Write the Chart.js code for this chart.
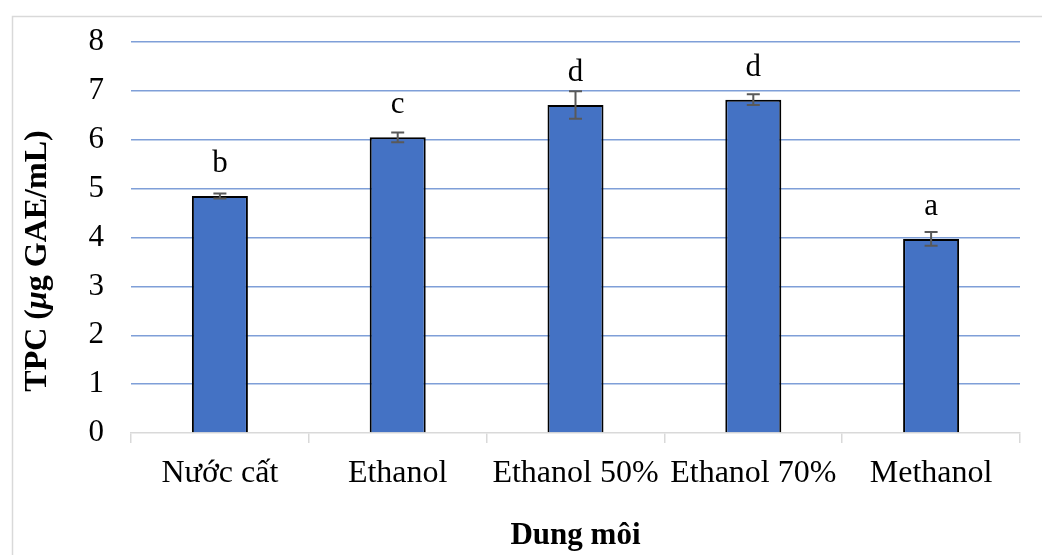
<!DOCTYPE html>
<html>
<head>
<meta charset="utf-8">
<script src="https://cdn.jsdelivr.net/npm/chart.js@4/dist/chart.umd.min.js"></script>
<style>
  html, body { margin: 0; padding: 0; background: #ffffff; }
  #wrap { width: 1042px; height: 555px; }
</style>
</head>
<body>
<div id="wrap"><canvas id="c" width="1042" height="555"></canvas></div>
<script>
// Total phenolic content by extraction solvent
const solvents = ['Nước cất', 'Ethanol', 'Ethanol 50%', 'Ethanol 70%', 'Methanol'];
const tpcMean = [4.85, 6.05, 6.71, 6.82, 3.97];
const tpcSd = [0.05, 0.10, 0.28, 0.11, 0.14];
const groupLetters = ['b', 'c', 'd', 'd', 'a'];
const yTicks = [0, 1, 2, 3, 4, 5, 6, 7, 8];

const SERIF = '"Liberation Serif", "Times New Roman", serif';

// outer frame line at the top-left of the figure
const framePlugin = {
  id: 'frame',
  beforeDraw(chart) {
    const ctx = chart.ctx;
    ctx.save();
    ctx.fillStyle = '#ffffff';
    ctx.fillRect(0, 0, chart.width, chart.height);
    ctx.strokeStyle = '#d9d9d9';
    ctx.lineWidth = 1.5;
    ctx.beginPath();
    ctx.moveTo(12.5, chart.height);
    ctx.lineTo(12.5, 16.5);
    ctx.lineTo(chart.width, 16.5);
    ctx.stroke();
    ctx.restore();
  }
};

// standard deviation whiskers and significance letters
const errorPlugin = {
  id: 'errorBars',
  afterDatasetsDraw(chart) {
    const ctx = chart.ctx;
    const y = chart.scales.y;
    const meta = chart.getDatasetMeta(0);
    ctx.save();
    meta.data.forEach((bar, i) => {
      const x = bar.x;
      const top = y.getPixelForValue(tpcMean[i] + tpcSd[i]);
      const bot = y.getPixelForValue(tpcMean[i] - tpcSd[i]);
      ctx.strokeStyle = '#595959';
      ctx.lineWidth = 2;
      ctx.beginPath();
      ctx.moveTo(x, top); ctx.lineTo(x, bot);
      ctx.moveTo(x - 6.5, top); ctx.lineTo(x + 6.5, top);
      ctx.moveTo(x - 6.5, bot); ctx.lineTo(x + 6.5, bot);
      ctx.stroke();
      ctx.fillStyle = '#000000';
      ctx.font = '31px ' + SERIF;
      ctx.textAlign = 'center';
      ctx.textBaseline = 'alphabetic';
      ctx.fillText(groupLetters[i], x, y.getPixelForValue(tpcMean[i]) - 24);
    });
    ctx.restore();
  }
};

// y axis title with an italic micro sign
const yTitlePlugin = {
  id: 'yTitle',
  afterDraw(chart) {
    const ctx = chart.ctx;
    const parts = [
      { t: 'TPC (', f: 'bold 32px ' + SERIF },
      { t: 'μ', f: 'italic bold 32px ' + SERIF },
      { t: 'g GAE/mL)', f: 'bold 32px ' + SERIF }
    ];
    ctx.save();
    let total = 0;
    parts.forEach(p => { ctx.font = p.f; p.w = ctx.measureText(p.t).width; total += p.w; });
    ctx.translate(38, 261);
    ctx.rotate(-Math.PI / 2);
    ctx.fillStyle = '#000000';
    ctx.textBaseline = 'middle';
    ctx.textAlign = 'left';
    let cx = -total / 2;
    parts.forEach(p => { ctx.font = p.f; ctx.fillText(p.t, cx, 0); cx += p.w; });
    ctx.restore();
  }
};

new Chart(document.getElementById('c'), {
  type: 'bar',
  data: {
    labels: solvents,
    datasets: [{
      data: tpcMean,
      backgroundColor: '#4472c4',
      borderColor: '#000000',
      borderWidth: 2,
      barPercentage: 1,
      categoryPercentage: 0.315
    }]
  },
  options: {
    responsive: false,
    animation: false,
    devicePixelRatio: 1,
    layout: { padding: { top: 42, left: 0, right: 22, bottom: 0 } },
    plugins: {
      legend: { display: false },
      tooltip: { enabled: false }
    },
    scales: {
      x: {
        afterFit(s) {
          s.height = 122;
          s.paddingLeft = 0; s.paddingRight = 0; s.paddingTop = 0; s.paddingBottom = 0;
        },
        grid: {
          offset: true,
          drawOnChartArea: false,
          drawTicks: true,
          tickLength: 10,
          color: '#d9d9d9',
          lineWidth: 1.5
        },
        border: { display: true, color: '#d9d9d9', width: 1.5 },
        ticks: {
          color: '#000000',
          font: { family: SERIF, size: 32 },
          padding: 11,
          maxRotation: 0,
          autoSkip: false
        },
        title: {
          display: true,
          text: 'Dung môi',
          color: '#000000',
          font: { family: SERIF, size: 31, weight: 'bold' },
          padding: { top: 0, bottom: 0 }
        }
      },
      y: {
        min: 0,
        max: 8,
        afterFit(s) {
          s.width = 131;
          s.paddingLeft = 0; s.paddingRight = 0; s.paddingTop = 0; s.paddingBottom = 0;
        },
        afterBuildTicks(s) { s.ticks = yTicks.map(v => ({ value: v })); },
        grid: {
          drawTicks: false,
          color: ctx => ctx.tick && ctx.tick.value === 0 ? 'rgba(0,0,0,0)' : '#7f9fd8',
          lineWidth: 1.5
        },
        border: { display: false },
        ticks: {
          color: '#000000',
          font: { family: SERIF, size: 31 },
          padding: 27
        }
      }
    }
  },
  plugins: [framePlugin, errorPlugin, yTitlePlugin]
});
</script>
</body>
</html>
